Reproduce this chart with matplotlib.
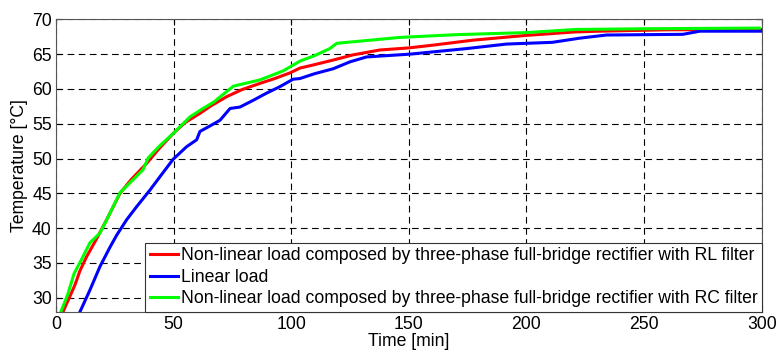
import matplotlib.pyplot as plt
import numpy as np

# --- data (time in min, temperature in degC) ---
t_rl = [3.0, 8.0, 10.2, 13.0, 17.3, 21.5, 27.2, 32.0, 38.5, 44.0, 49.8, 55.0, 61.2, 66.0,
        72.6, 79.0, 86.7, 93.0, 99.4, 103.7, 110.0, 117.8, 126.3, 137.7, 150.0, 160.4,
        177.0, 190.0, 200.0, 221.0, 231.0, 260.0, 300.0]
T_rl = [28.0, 31.8, 33.9, 35.9, 38.5, 41.2, 45.0, 47.0, 49.3, 51.5, 53.6, 55.2, 56.5, 57.6,
        58.9, 59.9, 60.8, 61.5, 62.3, 63.0, 63.5, 64.15, 64.9, 65.6, 65.9, 66.3,
        67.0, 67.4, 67.7, 68.2, 68.3, 68.5, 68.55]

t_lin = [10.2, 14.4, 18.7, 23.0, 25.8, 30.0, 34.3, 40.0, 44.2, 49.8, 55.5, 59.8, 61.2, 65.0,
         69.7, 74.0, 78.2, 84.0, 89.5, 95.0, 100.8, 103.7, 110.0, 117.8, 125.0, 132.0,
         150.4, 174.5, 191.5, 211.0, 222.7, 234.0, 266.5, 273.7, 300.0]
T_lin = [28.0, 31.1, 34.5, 37.3, 39.0, 41.2, 43.1, 45.5, 47.4, 49.9, 51.7, 52.7, 53.9, 54.6,
         55.5, 57.2, 57.4, 58.4, 59.4, 60.3, 61.4, 61.5, 62.2, 62.9, 63.9, 64.6,
         65.0, 65.8, 66.45, 66.7, 67.3, 67.75, 67.85, 68.3, 68.3]

t_rc = [2.1, 5.0, 7.7, 11.0, 14.4, 18.7, 23.0, 27.2, 31.4, 37.0, 39.2, 44.0, 49.8, 57.0,
        62.0, 67.0, 75.4, 86.7, 96.6, 103.7, 110.0, 116.4, 119.3, 120.7, 146.0, 170.0,
        200.0, 221.0, 250.0, 299.0]
T_rc = [28.0, 30.5, 33.5, 35.6, 37.9, 39.3, 42.2, 45.1, 46.5, 48.4, 50.1, 51.8, 53.6, 56.0,
        57.1, 58.1, 60.4, 61.3, 62.6, 64.0, 64.8, 65.8, 66.55, 66.6, 67.4, 67.8,
        68.1, 68.55, 68.65, 68.75]

labels = ["Non-linear load composed by three-phase full-bridge rectifier with RL filter",
          "Linear load",
          "Non-linear load composed by three-phase full-bridge rectifier with RC filter"]

plt.rcParams['font.family'] = ['Liberation Sans', 'DejaVu Sans']
fs = 12.7

fig = plt.figure(figsize=(7.78, 3.52), dpi=100)
ax = fig.add_axes([0.072, 0.1145, 0.907, 0.8305])

ax.plot(t_rl, T_rl, color='#ff0000', linewidth=2.2, label=labels[0])
ax.plot(t_lin, T_lin, color='#0000ff', linewidth=2.2, label=labels[1])
ax.plot(t_rc, T_rc, color='#00ff00', linewidth=2.2, label=labels[2])

ax.set_xlim(0, 300)
ax.set_ylim(28, 70)
ax.set_xticks(np.arange(0, 301, 50))
ax.set_yticks(np.arange(30, 71, 5))
ax.tick_params(direction='in', length=4, labelsize=fs, top=True, right=True, pad=3)
ax.grid(True, color='black', linestyle=(0, (6, 4)), linewidth=0.8)

for s in ax.spines.values():
    s.set_color('#555555')
    s.set_linewidth(0.8)

ax.set_xlabel("Time [min]", fontsize=fs, labelpad=0)
ax.set_ylabel("Temperature [°C]", fontsize=fs, labelpad=3)

leg = ax.legend(loc='lower right', fontsize=fs, borderaxespad=0, fancybox=False,
                framealpha=1, edgecolor='#333333', handlelength=1.6, handletextpad=0.15,
                borderpad=0.25, labelspacing=0.25)
leg.get_frame().set_linewidth(0.8)

fig.savefig("out.png", dpi=100)
